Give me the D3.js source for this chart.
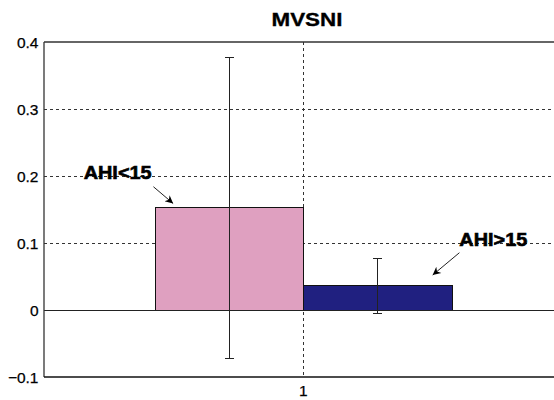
<!DOCTYPE html>
<html><head><meta charset="utf-8">
<script src="https://cdn.jsdelivr.net/npm/d3@7"></script>
<style>body{margin:0;background:#fff}svg{display:block}</style>
</head><body>
<script>
const title = "MVSNI";
const categories = ["AHI<15", "AHI>15"];
const values = [0.153, 0.037];
const errors = [0.225, 0.041];
const yTicks = [-0.1, 0, 0.1, 0.2, 0.3, 0.4];
const xTicks = [1];
const colors = ["#dfa0c0", "#202080"];
// annotation anchors in data coords: [textX, textY, arrowFromX, arrowFromY, arrowToX, arrowToY]
const annotations = [
  [0.642, 0.1955, 0.711, 0.184, 0.749, 0.159],
  [1.3665, 0.0955, 1.301, 0.0855, 1.2495, 0.0522]
];

const W = 554, H = 400;
const svg = d3.select("body").append("svg").attr("width", W).attr("height", H);
const x = d3.scaleLinear().domain([0.5, 1.5]).range([44, 562.6]);
const y = d3.scaleLinear().domain([-0.1, 0.4]).range([377, 42]);
const bw = 0.286;
const font = "Arial, 'Liberation Sans', sans-serif";

// grid
const grid = svg.append("g").attr("stroke", "#333").attr("stroke-width", 1).attr("stroke-dasharray", "3,3");
yTicks.filter(t => t > -0.1 && t < 0.4 && t !== 0).forEach(t => {
  grid.append("line").attr("x1", x(0.5)).attr("x2", W).attr("y1", Math.round(y(t)) + 0.5).attr("y2", Math.round(y(t)) + 0.5);
});
xTicks.forEach(t => {
  grid.append("line").attr("x1", Math.round(x(t)) + 0.5).attr("x2", Math.round(x(t)) + 0.5).attr("y1", y(0.4)).attr("y2", y(-0.1));
});

// bars
values.forEach((v, i) => {
  const x0 = i === 0 ? 1 - bw : 1, x1 = i === 0 ? 1 : 1 + bw;
  svg.append("rect")
    .attr("x", Math.round(x(x0)) + 0.5).attr("width", Math.round(x(x1)) - Math.round(x(x0)))
    .attr("y", Math.round(y(v)) + 0.5).attr("height", Math.round(y(0)) - Math.round(y(v)))
    .attr("fill", colors[i]).attr("stroke", "#111").attr("stroke-width", 1);
});

// baseline
svg.append("line").attr("x1", x(0.5)).attr("x2", W).attr("y1", Math.round(y(0)) + 0.5).attr("y2", Math.round(y(0)) + 0.5)
  .attr("stroke", "#222").attr("stroke-width", 1);

// error bars
values.forEach((v, i) => {
  const cx = Math.round(x(i === 0 ? 1 - bw / 2 : 1 + bw / 2)) + 0.5;
  const g = svg.append("g").attr("stroke", "#222").attr("stroke-width", 1);
  const yt = Math.round(y(v + errors[i])) + 0.5, yb = Math.round(y(v - errors[i])) + 0.5;
  g.append("line").attr("x1", cx).attr("x2", cx).attr("y1", yt).attr("y2", yb);
  g.append("line").attr("x1", cx - 4.5).attr("x2", cx + 4.5).attr("y1", yt).attr("y2", yt);
  g.append("line").attr("x1", cx - 4.5).attr("x2", cx + 4.5).attr("y1", yb).attr("y2", yb);
});

// axes box (left, top, bottom)
const ax = svg.append("g").attr("stroke", "#333").attr("stroke-width", 1.3).attr("fill", "none");
ax.append("line").attr("x1", x(0.5)).attr("x2", x(0.5)).attr("y1", y(0.4)).attr("y2", y(-0.1));
ax.append("line").attr("x1", x(0.5)).attr("x2", W).attr("y1", y(0.4)).attr("y2", y(0.4));
ax.append("line").attr("x1", x(0.5)).attr("x2", W).attr("y1", y(-0.1)).attr("y2", y(-0.1)).attr("stroke", "#111").attr("stroke-width", 1.5);

// tick labels
const fmt = d => d === 0 ? "0" : d3.format(".1f")(d);
yTicks.forEach(t => {
  svg.append("text").attr("x", 38.5).attr("y", y(t) + 5.5).attr("text-anchor", "end")
    .attr("font-family", font).attr("font-size", 15.5).attr("fill", "#000")
    .attr("stroke", "#000").attr("stroke-width", 0.25).text(fmt(t));
});
xTicks.forEach(t => {
  svg.append("text").attr("x", x(t)).attr("y", 396).attr("text-anchor", "middle")
    .attr("font-family", font).attr("font-size", 15.5).attr("fill", "#000")
    .attr("stroke", "#000").attr("stroke-width", 0.25).text(String(t));
});

// title
svg.append("text").attr("x", 307).attr("y", 26).attr("text-anchor", "middle")
  .attr("font-family", font).attr("font-weight", "bold").attr("font-size", 17.5)
  .attr("stroke", "#000").attr("stroke-width", 0.3)
  .attr("textLength", 71).attr("lengthAdjust", "spacingAndGlyphs").text(title);

// annotations
const defs = svg.append("defs");
defs.append("marker").attr("id", "ah").attr("viewBox", "0 0 10 10").attr("refX", 10).attr("refY", 5)
  .attr("markerWidth", 11).attr("markerHeight", 8).attr("markerUnits", "userSpaceOnUse").attr("orient", "auto")
  .append("path").attr("d", "M0,0 L10,5 L0,10 L3,5 Z").attr("fill", "#000");
annotations.forEach((a, i) => {
  svg.append("text").attr("x", x(a[0])).attr("y", y(a[1])).attr("text-anchor", "middle")
    .attr("font-family", font).attr("font-weight", "bold").attr("font-size", 18.5)
    .attr("stroke", "#000").attr("stroke-width", 0.6)
    .attr("textLength", 68).attr("lengthAdjust", "spacingAndGlyphs").attr("fill", "#000").text(categories[i]);
  svg.append("line").attr("x1", x(a[2])).attr("y1", y(a[3])).attr("x2", x(a[4])).attr("y2", y(a[5]))
    .attr("stroke", "#222").attr("stroke-width", 1).attr("marker-end", "url(#ah)");
});
</script>
</body></html>
